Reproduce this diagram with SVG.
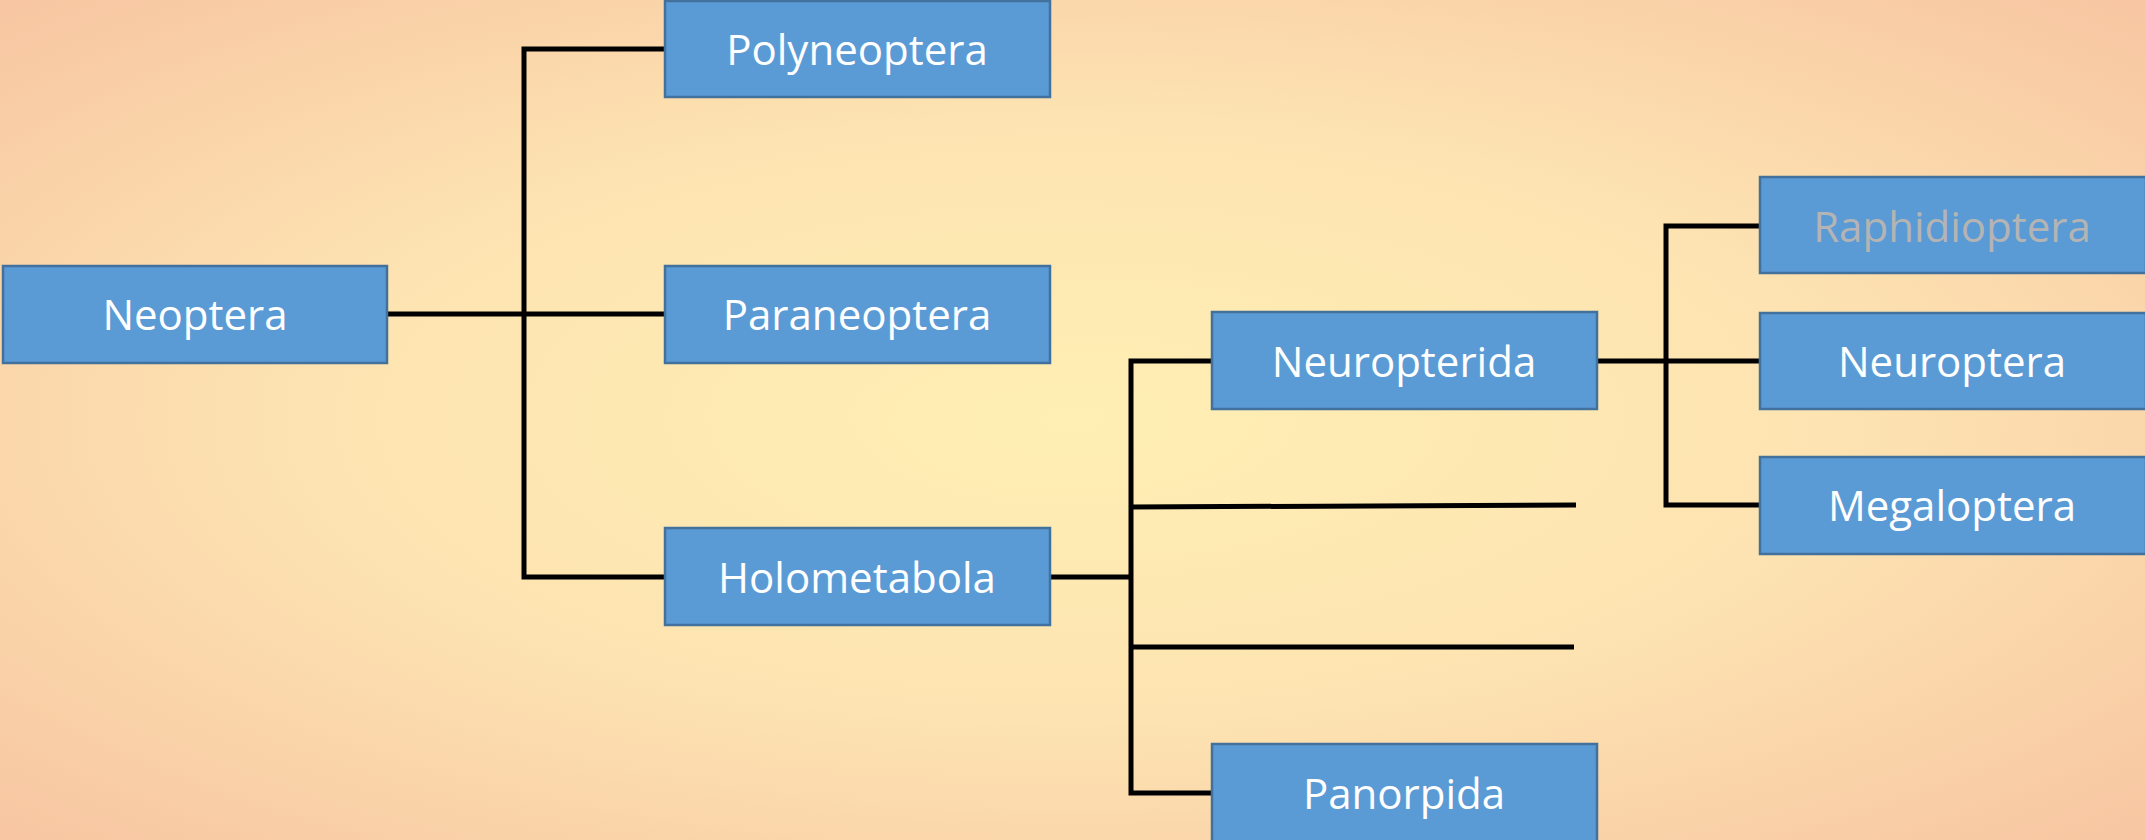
<svg xmlns="http://www.w3.org/2000/svg" width="2145" height="840" viewBox="0 0 2145 840">
<defs>
<radialGradient id="bg" cx="0.5" cy="0.5" r="0.72" gradientUnits="objectBoundingBox">
<stop offset="0" stop-color="#ffefb4"/>
<stop offset="0.5" stop-color="#fde3b1"/>
<stop offset="1" stop-color="#f7c4a1"/>
</radialGradient>
<style>
.box{fill:#5b9bd5;stroke:#41719c;stroke-width:2.5}
.lbl{font-family:"Open Sans","Noto Sans",sans-serif;font-size:42px;fill:#ffffff;text-anchor:middle}
.dim{fill:#b4b4b4}
.cn{fill:none;stroke:#000000;stroke-width:5;stroke-linejoin:miter;stroke-linecap:butt}
</style>
</defs>
<rect x="0" y="0" width="2145" height="840" fill="url(#bg)"/>
<g id="connectors">
<path class="cn" d="M387 314H665"/>
<path class="cn" d="M665 49H524V577H665"/>
<path class="cn" d="M1050 577H1131"/>
<path class="cn" d="M1212 361H1131V793H1212"/>
<path class="cn" d="M1131 507L1576 505"/>
<path class="cn" d="M1131 647H1574"/>
<path class="cn" d="M1597 361H1760"/>
<path class="cn" d="M1760 226H1666V505H1760"/>
</g>
<g id="neoptera"><rect class="box" x="3" y="266" width="384" height="97"/><text class="lbl" x="195" y="330">Neoptera</text></g>
<g id="polyneoptera"><rect class="box" x="665" y="1" width="385" height="96"/><text class="lbl" x="857" y="65">Polyneoptera</text></g>
<g id="paraneoptera"><rect class="box" x="665" y="266" width="385" height="97"/><text class="lbl" x="857" y="330">Paraneoptera</text></g>
<g id="holometabola"><rect class="box" x="665" y="528" width="385" height="97"/><text class="lbl" x="857" y="593">Holometabola</text></g>
<g id="neuropterida"><rect class="box" x="1212" y="312" width="385" height="97"/><text class="lbl" x="1404" y="377">Neuropterida</text></g>
<g id="panorpida"><rect class="box" x="1212" y="744" width="385" height="98"/><text class="lbl" x="1404" y="809">Panorpida</text></g>
<g id="raphidioptera"><rect class="box" x="1760" y="177" width="386" height="96"/><text class="lbl dim" x="1952" y="242">Raphidioptera</text></g>
<g id="neuroptera"><rect class="box" x="1760" y="313" width="386" height="96"/><text class="lbl" x="1952" y="377">Neuroptera</text></g>
<g id="megaloptera"><rect class="box" x="1760" y="457" width="386" height="97"/><text class="lbl" x="1952" y="521">Megaloptera</text></g>
</svg>
